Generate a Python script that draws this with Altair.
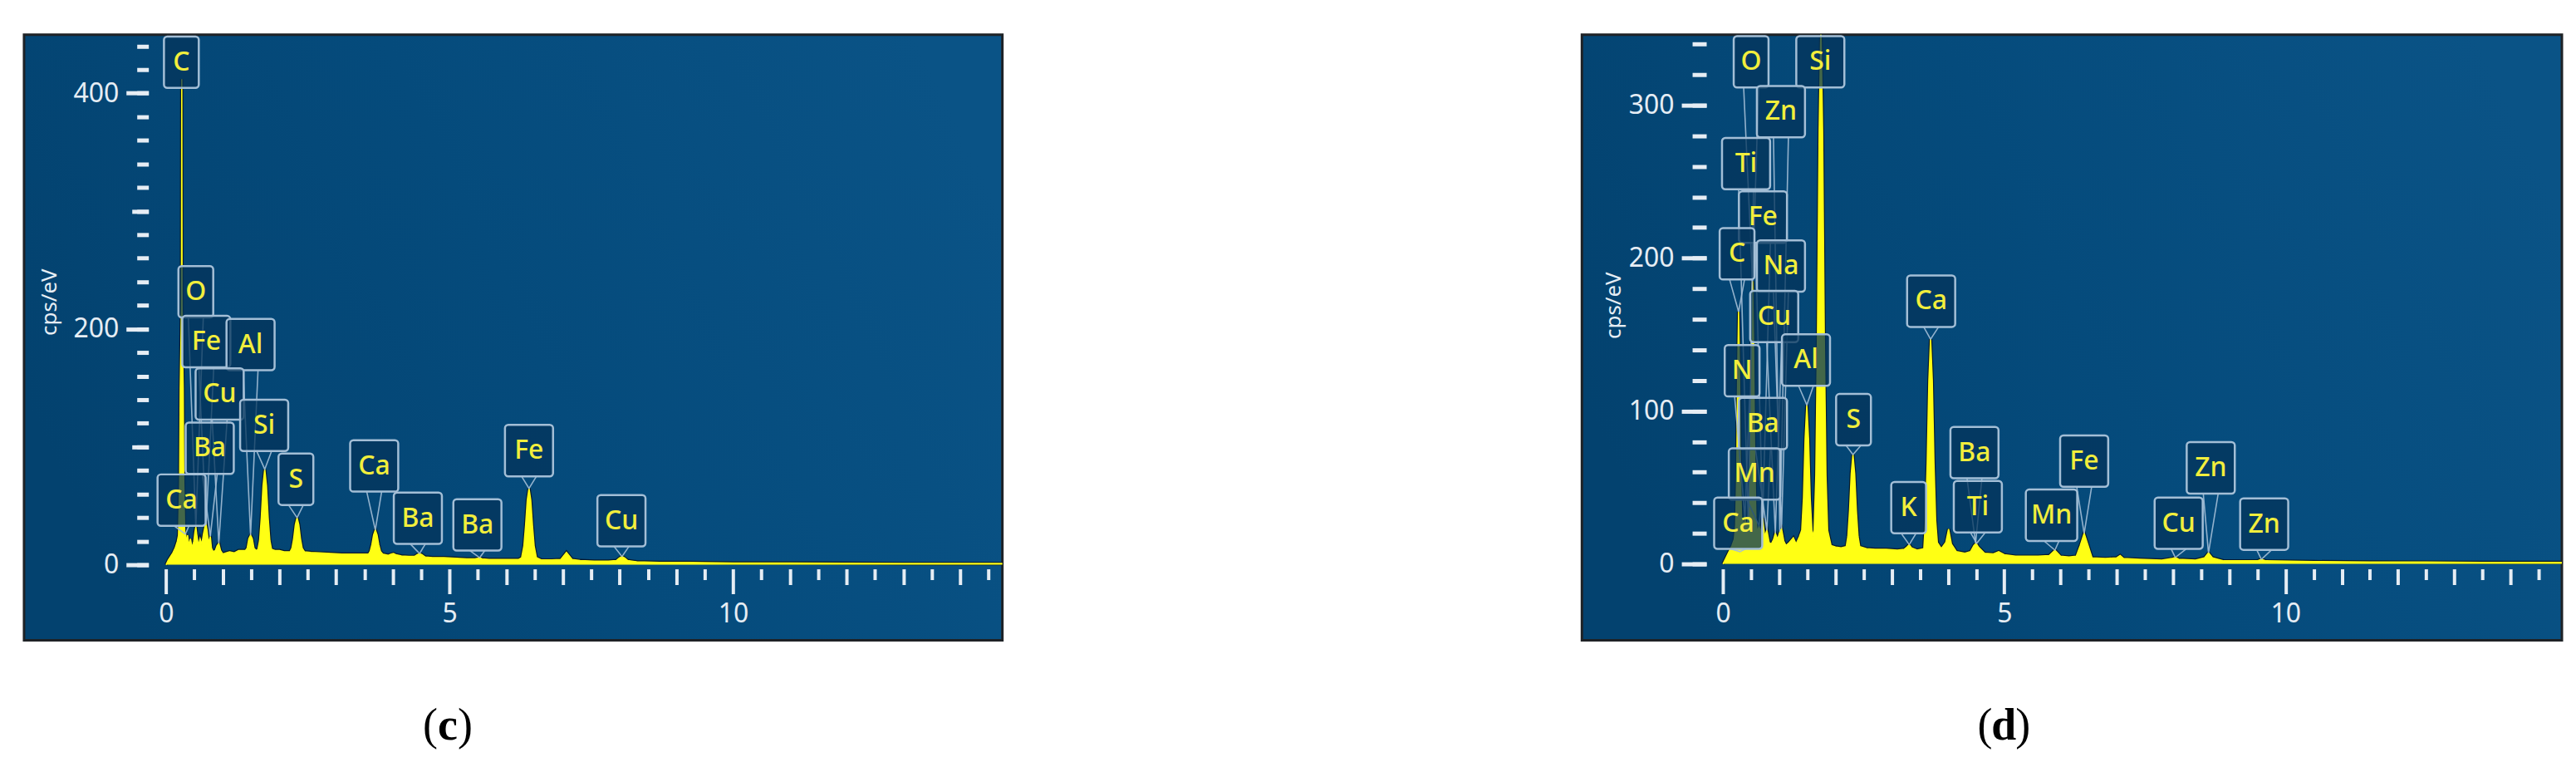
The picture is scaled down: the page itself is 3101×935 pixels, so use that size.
import altair as alt
import pandas as pd

# ---------------- panel (c) : spectrum ----------------
c_energy = [
    0.00, 0.04, 0.08, 0.12, 0.16, 0.20, 0.22, 0.24, 0.25, 0.26,
    0.272, 0.277, 0.282, 0.292, 0.302, 0.312, 0.33, 0.345, 0.36, 0.38,
    0.40, 0.43, 0.46, 0.49, 0.51, 0.525, 0.54, 0.57, 0.60, 0.63,
    0.66, 0.69, 0.705, 0.72, 0.75, 0.78, 0.80, 0.83, 0.87, 0.90,
    0.93, 0.96, 1.00, 1.05, 1.12, 1.20, 1.28, 1.35, 1.40, 1.43,
    1.46, 1.49, 1.52, 1.55, 1.59, 1.62, 1.65, 1.68, 1.71, 1.74,
    1.77, 1.80, 1.83, 1.86, 1.92, 2.00, 2.08, 2.15, 2.19, 2.22,
    2.25, 2.28, 2.31, 2.34, 2.37, 2.40, 2.44, 2.55, 2.70, 2.90,
    3.10, 3.30, 3.45, 3.57, 3.60, 3.63, 3.66, 3.69, 3.72, 3.75,
    3.78, 3.82, 3.92, 3.97, 4.01, 4.05, 4.15, 4.28, 4.38, 4.43,
    4.47, 4.51, 4.57, 4.70, 4.90, 5.10, 5.30, 5.45, 5.50, 5.53,
    5.57, 5.70, 5.90, 6.10, 6.22, 6.27, 6.31, 6.34, 6.37, 6.40,
    6.43, 6.46, 6.49, 6.53, 6.62, 6.80, 6.96, 7.01, 7.06, 7.11,
    7.16, 7.30, 7.55, 7.80, 7.94, 7.99, 8.04, 8.09, 8.14, 8.30,
    8.70, 9.20, 10.0, 11.0, 12.0, 13.0, 14.0, 14.75]
c_counts = [
    0, 4, 7, 10, 14, 20, 25, 70, 150, 180,
    220, 412, 220, 180, 150, 70, 26, 26, 18, 25,
    16, 22, 14, 20, 28, 32, 26, 16, 22, 17,
    26, 33, 34, 30, 18, 24, 14, 11, 12, 16,
    18, 12, 9, 10, 11, 10, 12, 12, 12, 14,
    22, 25, 22, 14, 12, 13, 20.5, 40, 67, 81,
    67, 40, 20.5, 13, 12, 12, 11, 11, 11, 14,
    22, 34, 40, 34, 22, 14, 11, 10.5, 10, 9.5,
    9, 9, 9, 9, 11.3, 17, 25.3, 29.5, 25.3, 17,
    11.3, 9, 8, 9, 9.5, 8.5, 7.5, 7, 7, 8.5,
    9.5, 8.5, 6.5, 6, 6, 5.5, 5, 5, 5.5, 6,
    5, 4.5, 4.5, 4.5, 4.5, 6, 16, 33.7, 55, 64.7,
    55, 33.7, 16, 6, 4, 4, 4.5, 7.5, 10.5, 7.5,
    4.5, 3.5, 3, 3, 3.5, 5.5, 7, 5.5, 3.5, 2.5,
    2, 2, 1.5, 1.5, 1.2, 1, 1, 1]

# panel (c) : element labels (box centre keV, box bottom cps/eV, pointed peak)
c_lab_text = ["C", "O", "Fe", "Al", "Cu", "Si", "Ba", "Ca", "S", "Ca", "Ba", "Ba", "Fe", "Cu"]
c_lab_x = [0.27, 0.525, 0.71, 1.49, 0.945, 1.73, 0.77, 0.274, 2.29, 3.67, 4.44, 5.49, 6.40, 8.03]
c_lab_y = [404.5, 209.7, 167.5, 165, 123, 96.4, 77, 33, 50.7, 62, 17.6, 12, 75, 15.5]
c_peak_x = [0.277, 0.525, 0.705, 1.49, 0.93, 1.74, 0.78, 0.34, 2.31, 3.69, 4.47, 5.53, 6.40, 8.04]
c_peak_y = [404.5, 32, 34, 25, 18, 81, 24, 26, 40, 29.5, 9.5, 6, 64.7, 7]

# ---------------- panel (d) : spectrum ----------------
d_energy = [
    0.00, 0.04, 0.08, 0.12, 0.16, 0.20, 0.225, 0.245, 0.262, 0.277,
    0.292, 0.31, 0.33, 0.35, 0.37, 0.39, 0.42, 0.445, 0.465, 0.49,
    0.508, 0.525, 0.542, 0.56, 0.585, 0.61, 0.64, 0.67, 0.705, 0.74,
    0.78, 0.82, 0.86, 0.90, 0.93, 0.97, 1.01, 1.04, 1.08, 1.12,
    1.18, 1.25, 1.30, 1.36, 1.40, 1.43, 1.46, 1.49, 1.52, 1.55,
    1.58, 1.60, 1.62, 1.65, 1.68, 1.71, 1.74, 1.77, 1.80, 1.83,
    1.86, 1.92, 2.00, 2.10, 2.19, 2.22, 2.25, 2.28, 2.31, 2.34,
    2.37, 2.40, 2.43, 2.55, 2.70, 2.90, 3.10, 3.22, 3.27, 3.31,
    3.35, 3.45, 3.57, 3.60, 3.63, 3.66, 3.69, 3.72, 3.75, 3.78,
    3.81, 3.88, 3.96, 4.01, 4.06, 4.15, 4.30, 4.40, 4.46, 4.50,
    4.54, 4.65, 4.80, 4.90, 5.00, 5.20, 5.40, 5.60, 5.80, 5.90,
    6.00, 6.15, 6.28, 6.35, 6.42, 6.49, 6.56, 6.80, 7.00, 7.06,
    7.12, 7.40, 7.80, 7.98, 8.04, 8.10, 8.40, 8.56, 8.63, 8.70,
    8.90, 9.50, 9.57, 9.65, 10.5, 11.5, 12.5, 13.5, 14.91]
d_counts = [
    0, 3, 6, 9, 12, 16, 25, 60, 130, 165,
    130, 60, 30, 28, 24, 30, 24, 30, 40, 85,
    150, 185, 150, 80, 30, 20, 25, 20, 30, 18,
    22, 14, 13, 16, 20, 16, 21, 23, 15, 12,
    14, 17, 13, 18, 22, 43, 82, 104, 82, 43,
    22, 18, 22, 58, 150, 284, 352, 284, 150, 58,
    22, 12, 11, 10.5, 11.3, 18, 35, 59, 71.5, 59,
    35, 18, 11.3, 10, 9.5, 9.5, 9, 9.5, 11, 12.6,
    10.5, 9, 10, 28.5, 66, 120, 147, 120, 66, 28.5,
    14, 10, 14, 22.8, 13, 8, 7, 8, 12, 13.5,
    11, 7, 6.5, 8, 6, 5, 5, 5, 5.5, 9,
    5, 4.5, 5, 12, 20, 12, 4, 3.5, 4, 5.5,
    3.5, 3, 2.5, 3.5, 4.2, 3, 2.5, 4, 7.2, 4,
    2, 2, 3, 2, 1.5, 1.3, 1.2, 1, 1]

d_lab_text = ["O", "Si", "Zn", "Ti", "Fe", "C", "Na", "Cu", "Al", "N", "Ba", "Mn", "Ca",
              "Ca", "S", "K", "Ba", "Ti", "Mn", "Fe", "Cu", "Zn", "Zn"]
d_lab_x = [0.50, 1.73, 1.03, 0.41, 0.71, 0.25, 1.03, 0.91, 1.475, 0.34, 0.71, 0.56, 0.27,
           3.70, 2.32, 3.30, 4.47, 4.53, 5.84, 6.42, 8.10, 8.67, 9.62]
d_lab_y = [311.6, 311.6, 279, 245, 210, 186, 178, 145, 116.5, 109.5, 75, 42, 9.8,
           155, 77.5, 20, 56, 20.6, 15, 50.4, 9.8, 46, 9.2]
d_peak_x = [0.525, 1.74, 1.01, 0.45, 0.705, 0.277, 1.04, 0.93, 1.49, 0.39, 0.78, 0.64, 0.30,
            3.69, 2.31, 3.31, 4.49, 4.51, 5.90, 6.42, 8.04, 8.63, 9.57]
d_peak_y = [185, 311.6, 21, 26, 30, 165, 23, 20, 104, 30, 22, 25, 8,
            147, 71.5, 12.6, 13.5, 13.5, 9, 20, 4.2, 7.2, 3]

# ---------------- axis tick values ----------------
x_major = [0, 5, 10]
x_unit = [1, 2, 3, 4, 6, 7, 8, 9, 11, 12, 13, 14]
x_half = [0.5, 1.5, 2.5, 3.5, 4.5, 5.5, 6.5, 7.5, 8.5, 9.5, 10.5, 11.5, 12.5, 13.5, 14.5]
c_y_major = [0, 200, 400]
c_y_mid = [100, 300]
c_y_minor = [0, 20, 40, 60, 80, 100, 120, 140, 160, 180, 200, 220, 240, 260, 280, 300,
             320, 340, 360, 380, 400, 420, 440]
d_y_major = [0, 100, 200, 300]
d_y_mid = []
d_y_minor = [0, 20, 40, 60, 80, 100, 120, 140, 160, 180, 200, 220, 240, 260, 280, 300, 320, 340]

# ---------------- styles ----------------
FONT = "Noto Sans"
SERIF = "Liberation Serif"
TICK = "#e6edf4"
YELLOW = "#ffff14"
LAB_YELLOW = "#f2ee3c"
HALO = "#071a2d"
BOX_STROKE = "#a3bed6"
BOX_FILL = "#04345b"
X_OFF = -86
Y_OFF = -150
BOX_H = 62


def make_panel(energy, counts, lab_text, lab_x, lab_y, peak_x, peak_y,
               y_major, y_mid, y_minor, xdom, ydom, W, H,
               ymaj_len, ymin_len, title_xy, cap_letter, cap_xy, cap_gap):
    ppx = W / (xdom[1] - xdom[0])
    ppy = H / (ydom[1] - ydom[0])
    xs = alt.Scale(domain=xdom, nice=False, zero=False)
    ys = alt.Scale(domain=ydom, nice=False, zero=False)
    spec = pd.DataFrame({"E": energy, "I": counts})

    def xax(values, size, labels=False):
        kw = dict(values=values, orient="bottom", offset=X_OFF, tickSize=size, tickWidth=4,
                  tickColor=TICK, domain=False, grid=False, labels=labels, title=None, zindex=1)
        if labels:
            kw.update(labelFont=FONT, labelFontSize=32, labelColor=TICK, labelPadding=9,
                      labelFlush=False, labelOverlap=False)
        return alt.Axis(**kw)

    def yax(values, size, labels=False):
        kw = dict(values=values, orient="left", offset=Y_OFF, tickSize=size, tickWidth=5,
                  tickColor=TICK, domain=False, grid=False, labels=labels, zindex=1)
        if labels:
            kw.update(labelFont=FONT, labelFontSize=32, labelColor=TICK, labelPadding=9,
                      labelOverlap=False, title="cps/eV", titleFont=FONT, titleFontSize=26,
                      titleFontWeight="normal", titleColor=TICK, titleAngle=270,
                      titleAlign="center", titleBaseline="middle",
                      titleX=title_xy[0], titleY=title_xy[1])
        else:
            kw.update(title=None)
        return alt.Axis(**kw)

    one = pd.DataFrame({"k": [0]})
    bg = alt.Chart(one).mark_rect(
        fill=alt.Gradient(gradient="linear",
                          stops=[alt.GradientStop(color="#03426f", offset=0),
                                 alt.GradientStop(color="#054b7c", offset=0.5),
                                 alt.GradientStop(color="#0a5386", offset=1)],
                          x1=0, x2=1, y1=0.6, y2=0.3),
        stroke="#1e2226", strokeWidth=3,
    ).encode(x=alt.value(0), x2=alt.value("width"), y=alt.value(0), y2=alt.value("height"))

    halo = alt.Chart(spec).mark_line(color=HALO, strokeWidth=4, clip=True).encode(
        x=alt.X("E:Q", scale=xs, axis=xax(x_major, 30, True)),
        y=alt.Y("I:Q", scale=ys, axis=yax(y_major, ymaj_len, True)),
    )
    area = alt.Chart(spec).mark_area(color=YELLOW, clip=True).encode(
        x=alt.X("E:Q", scale=xs, axis=None),
        y=alt.Y("I:Q", scale=ys, axis=None),
        y2=alt.datum(0),
    )
    edge = alt.Chart(spec).mark_line(color=YELLOW, strokeWidth=1.6, clip=True).encode(
        x=alt.X("E:Q", scale=xs, axis=None),
        y=alt.Y("I:Q", scale=ys, axis=None),
    )
    ticks_a = alt.Chart(spec).mark_point(opacity=0).encode(
        x=alt.X("E:Q", scale=xs, axis=xax(x_half, 13)),
        y=alt.Y("I:Q", scale=ys, axis=yax(y_minor, ymin_len)),
    )
    ticks_b = alt.Chart(spec).mark_point(opacity=0).encode(
        x=alt.X("E:Q", scale=xs, axis=xax(x_unit, 19)),
        y=alt.Y("I:Q", scale=ys, axis=(yax(y_mid, 20) if y_mid else None)),
    )

    # label boxes, texts and V pointers
    rows_box, rows_ptr = [], []
    half_v = 9 / ppx
    for i, t in enumerate(lab_text):
        w = 42 if len(t) == 1 else (62 if t == "Mn" else 58)
        cx, by = lab_x[i], lab_y[i]
        rows_box.append({"t": t, "x1": cx - w / 2 / ppx, "x2": cx + w / 2 / ppx,
                         "y1": by, "y2": by + BOX_H / ppy, "ym": by + BOX_H / 2 / ppy, "xc": cx})
        rows_ptr += [{"id": i, "o": 0, "x": cx - half_v, "y": by},
                     {"id": i, "o": 1, "x": peak_x[i], "y": peak_y[i]},
                     {"id": i, "o": 2, "x": cx + half_v, "y": by}]
    bdf = pd.DataFrame(rows_box)
    pdf = pd.DataFrame(rows_ptr)

    ptr = alt.Chart(pdf).mark_line(color=BOX_STROKE, strokeWidth=1.6, opacity=0.9).encode(
        x=alt.X("x:Q", scale=xs, axis=None),
        y=alt.Y("y:Q", scale=ys, axis=None),
        detail="id:N", order="o:Q",
    )
    boxes = alt.Chart(bdf).mark_rect(fill=BOX_FILL, fillOpacity=0.75, stroke=BOX_STROKE,
                                     strokeWidth=2.5, cornerRadius=4).encode(
        x=alt.X("x1:Q", scale=xs, axis=None), x2="x2:Q",
        y=alt.Y("y1:Q", scale=ys, axis=None), y2="y2:Q",
    )
    texts = alt.Chart(bdf).mark_text(color=LAB_YELLOW, font=FONT, fontSize=32, fontWeight=500,
                                     align="center", baseline="middle").encode(
        x=alt.X("xc:Q", scale=xs, axis=None),
        y=alt.Y("ym:Q", scale=ys, axis=None),
        text="t:N",
    )

    cx0, cy0 = cap_xy
    cap_l = alt.Chart(one).mark_text(text="(", font=SERIF, fontSize=54, color="black",
                                     align="center", baseline="middle").encode(
        x=alt.value(cx0 - cap_gap), y=alt.value(cy0))
    cap_m = alt.Chart(one).mark_text(text=cap_letter, font=SERIF, fontSize=54, fontWeight="bold",
                                     color="black", align="center", baseline="middle").encode(
        x=alt.value(cx0), y=alt.value(cy0))
    cap_r = alt.Chart(one).mark_text(text=")", font=SERIF, fontSize=54, color="black",
                                     align="center", baseline="middle").encode(
        x=alt.value(cx0 + cap_gap), y=alt.value(cy0))

    return alt.layer(bg, halo, area, edge, ticks_a, ticks_b, ptr, boxes, texts,
                     cap_l, cap_m, cap_r).resolve_axis(
        x="independent", y="independent").properties(width=W, height=H)


left = make_panel(c_energy, c_counts, c_lab_text, c_lab_x, c_lab_y, c_peak_x, c_peak_y,
                  c_y_major, c_y_mid, c_y_minor,
                  [-2.504, 14.747], [-64.03, 449.6], 1180, 730,
                  27, 14, (-119, 322), "c", (511, 834), 21)
right = make_panel(d_energy, d_counts, d_lab_text, d_lab_x, d_lab_y, d_peak_x, d_peak_y,
                   d_y_major, d_y_mid, d_y_minor,
                   [-2.508, 14.912], [-49.9, 346.1], 1182, 730,
                   30, 17, (-112, 326), "d", (509, 834), 23)

chart = alt.hconcat(left, right, spacing=693).properties(
    padding={"left": 19, "top": 18, "right": 5, "bottom": 5}
).configure_view(stroke=None).configure(background="white")

chart.save("out.html", embed_options={"renderer": "svg", "actions": False})
